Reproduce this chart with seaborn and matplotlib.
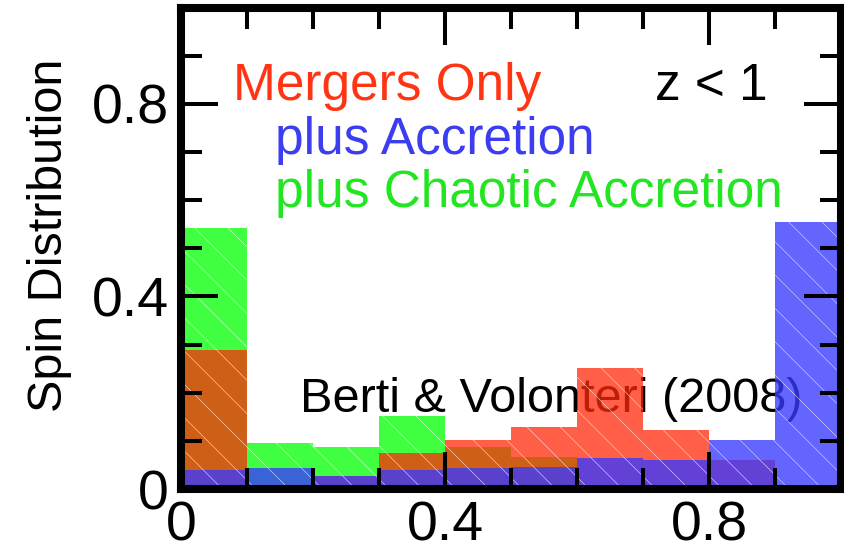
import numpy as np
import pandas as pd
import matplotlib
matplotlib.use("Agg")
import matplotlib.pyplot as plt
import seaborn as sns
from matplotlib.ticker import MultipleLocator, FixedLocator, FixedFormatter

# ---- data ----
bin_edges = [0.0, 0.1, 0.2, 0.3, 0.4, 0.5, 0.6, 0.7, 0.8, 0.9, 1.0]
bin_centers = [0.05, 0.15, 0.25, 0.35, 0.45, 0.55, 0.65, 0.75, 0.85, 0.95]
plus_chaotic_accretion = [0.542, 0.095, 0.087, 0.152, 0.087, 0.066, 0.0, 0.0, 0.0, 0.0]
mergers_only = [0.289, 0.0, 0.027, 0.075, 0.102, 0.129, 0.251, 0.123, 0.060, 0.0]
plus_accretion = [0.039, 0.043, 0.027, 0.039, 0.044, 0.046, 0.064, 0.060, 0.102, 0.555]
tick_values = [0, 0.4, 0.8]
tick_labels = ["0", "0.4", "0.8"]

sns.set_theme(style="white")
plt.rcParams["font.family"] = ["Liberation Sans", "DejaVu Sans"]
plt.rcParams["hatch.linewidth"] = 0.3
plt.rcParams["text.color"] = "black"
plt.rcParams["axes.labelcolor"] = "black"
plt.rcParams["xtick.color"] = "black"
plt.rcParams["ytick.color"] = "black"

fig = plt.figure(figsize=(8.44, 5.53), dpi=100)
ax = fig.add_axes([181 / 844, 1 - 489 / 553, 660 / 844, 481.5 / 553])

series = [
    (plus_chaotic_accretion, (0 / 255, 255 / 255, 0 / 255), 0.75),
    (mergers_only, (255 / 255, 41 / 255, 8 / 255), 0.75),
    (plus_accretion, (57 / 255, 57 / 255, 255 / 255), 0.785),
]
for values, col, a in series:
    df = pd.DataFrame({"spin": bin_centers, "frac": values})
    sns.histplot(data=df, x="spin", weights="frac", bins=bin_edges, stat="count",
                 color=col, alpha=a, edgecolor="white", linewidth=0,
                 hatch="\\", ax=ax)

ax.set_axisbelow(False)
ax.set_xlim(0, 1.0)
ax.set_ylim(0, 1.0)
ax.set_xlabel("")
ax.set_ylabel("Spin Distribution", fontsize=35, color="black")
ax.yaxis.set_label_coords(-0.165, 0.527)

ax.xaxis.set_major_locator(FixedLocator(tick_values))
ax.xaxis.set_major_formatter(FixedFormatter(tick_labels))
ax.yaxis.set_major_locator(FixedLocator(tick_values))
ax.yaxis.set_major_formatter(FixedFormatter(tick_labels))
ax.xaxis.set_minor_locator(MultipleLocator(0.1))
ax.yaxis.set_minor_locator(MultipleLocator(0.1))

ax.tick_params(which="both", direction="in", top=True, right=True,
               left=True, bottom=True,
               width=2.9, color="black", labelcolor="black", labelsize=40)
ax.tick_params(which="major", length=26.6)
ax.tick_params(which="minor", length=15)
ax.tick_params(axis="y", pad=9)
ax.tick_params(axis="x", pad=8)

for s in ax.spines.values():
    s.set_visible(True)
    s.set_linewidth(5.8)
    s.set_color("black")
    s.set_zorder(6)

ax.text(0.079, 0.807, "Mergers Only", color="#ff3412", fontsize=37, zorder=5)
ax.text(0.142, 0.696, "plus Accretion", color="#3c3cf0", fontsize=37, zorder=5)
ax.text(0.142, 0.586, "plus Chaotic Accretion", color="#22e622", fontsize=37, zorder=5)
ax.text(0.718, 0.807, "z < 1", color="black", fontsize=37, zorder=5)
ax.text(0.18, 0.16, "Berti & Volonteri (2008)", color="black", fontsize=35, zorder=0.5)

fig.savefig("out.png", dpi=100)
